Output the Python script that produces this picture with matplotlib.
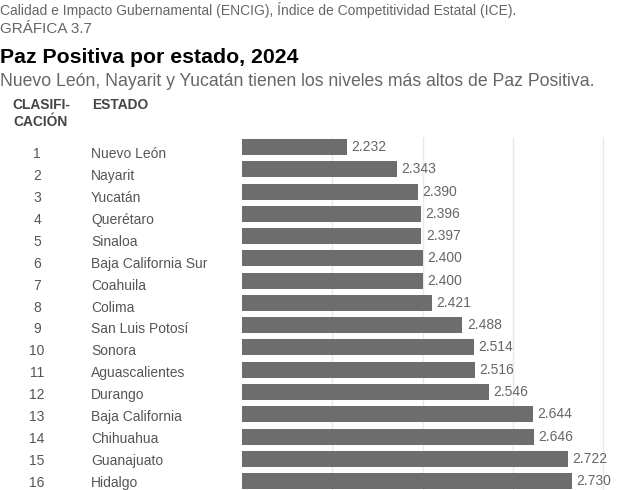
import matplotlib.pyplot as plt
import numpy as np

plt.rcParams['font.family'] = ['Liberation Sans', 'DejaVu Sans']

ranks = list(range(1, 17))
states = [
    "Nuevo León", "Nayarit", "Yucatán", "Querétaro", "Sinaloa",
    "Baja California Sur", "Coahuila", "Colima", "San Luis Potosí",
    "Sonora", "Aguascalientes", "Durango", "Baja California",
    "Chihuahua", "Guanajuato", "Hidalgo",
]
scores = [2.232, 2.343, 2.390, 2.396, 2.397, 2.400, 2.400, 2.421, 2.488,
          2.514, 2.516, 2.546, 2.644, 2.646, 2.722, 2.730]
grid_ticks = [2.2, 2.4, 2.6, 2.8]

W, H = 633, 490
fig = plt.figure(figsize=(W / 100, H / 100), dpi=100)


def fy(px):
    return 1 - px / H


# axes placed in pixel terms: bars start at x=242, top gridline at y=137
ax = fig.add_axes([242 / W, 0, 391 / W, 353 / H])
y = np.arange(len(states))
ax.barh(y, [s - 2.0 for s in scores], left=2.0, height=0.72, color="#6d6d6d", zorder=2)
ax.set_xlim(2.0, 2.0 + 391 / 451.8)
ax.set_ylim(15.4, -0.45)
ax.set_xticks(grid_ticks)
ax.set_yticks([])
ax.tick_params(axis="x", length=0, labelbottom=False)
ax.grid(axis="x", color="#e9e9e9", linewidth=1, zorder=0)
for sp in ax.spines.values():
    sp.set_visible(False)

for i, v in enumerate(scores):
    ax.text(v + 0.01, i, f"{v:.3f}", va="center", ha="left", fontsize=10, color="#666666")

# row labels on the left (baselines in px)
row_step = (487 - 158) / 15
for i, (r, st) in enumerate(zip(ranks, states)):
    base = fy(158 + i * row_step)
    fig.text(37 / W, base, str(r), va="baseline", ha="center", fontsize=10, color="#555555")
    fig.text(91 / W, base, st, va="baseline", ha="left", fontsize=10, color="#555555")

fig.text(0, fy(15), "Calidad e Impacto Gubernamental (ENCIG), Índice de Competitividad Estatal (ICE).",
         fontsize=10, color="#666666", va="baseline", ha="left")
fig.text(0, fy(33), "GRÁFICA 3.7", fontsize=11, color="#666666", va="baseline", ha="left")
fig.text(0, fy(63), "Paz Positiva por estado, 2024", fontsize=15.3, fontweight="bold",
         color="#000000", va="baseline", ha="left")
fig.text(0, fy(86), "Nuevo León, Nayarit y Yucatán tienen los niveles más altos de Paz Positiva.",
         fontsize=12.7, color="#666666", va="baseline", ha="left")
fig.text(41 / W, fy(109), "CLASIFI-", fontsize=9.9, fontweight="bold", color="#444444", va="baseline", ha="center")
fig.text(41 / W, fy(126), "CACIÓN", fontsize=9.9, fontweight="bold", color="#444444", va="baseline", ha="center")
fig.text(92 / W, fy(109), "ESTADO", fontsize=9.9, fontweight="bold", color="#444444", va="baseline", ha="left")

fig.savefig("out.png", dpi=100)
